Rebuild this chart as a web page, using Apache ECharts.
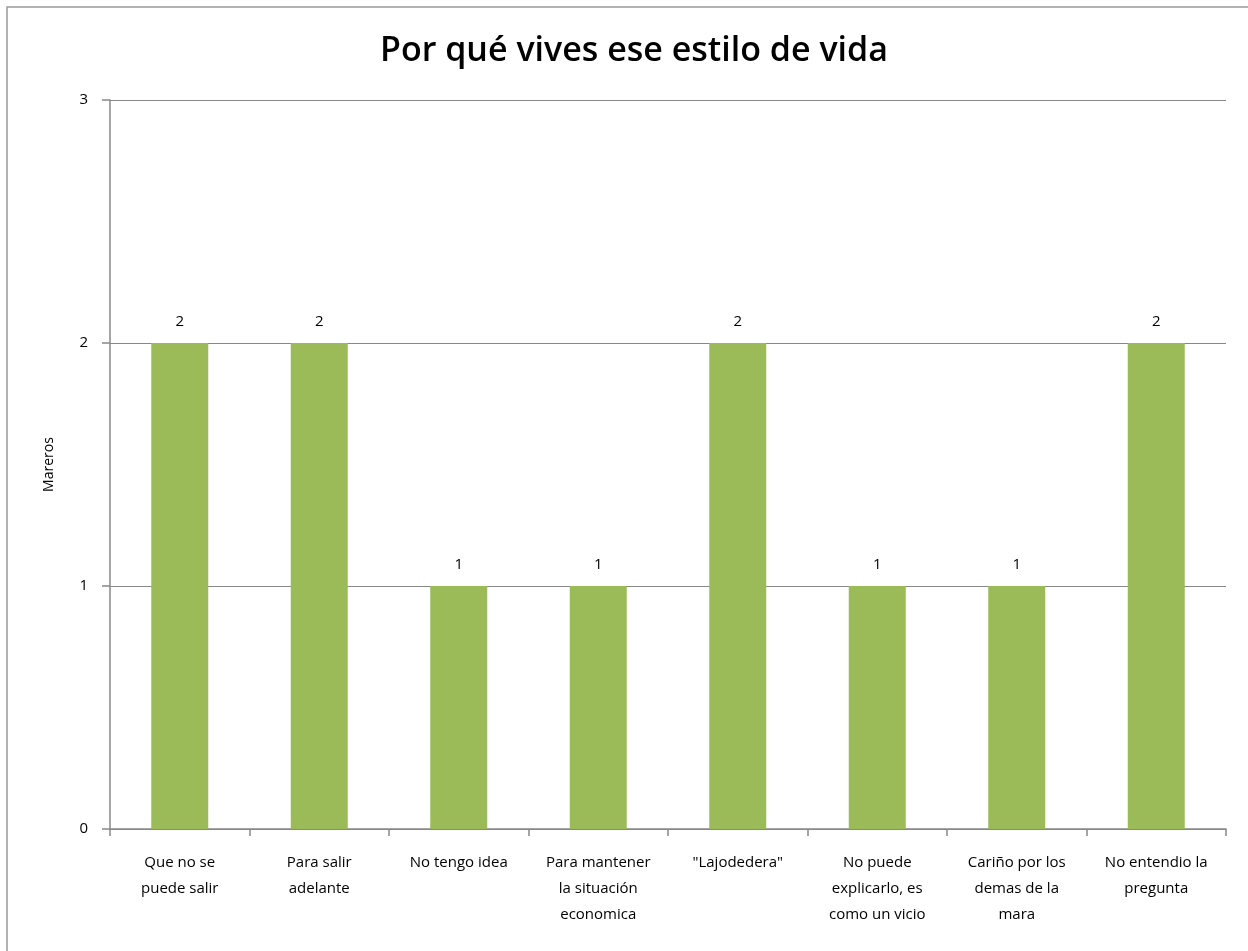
<!DOCTYPE html>
<html>
<head>
<meta charset="utf-8">
<script src="https://cdn.jsdelivr.net/npm/echarts@6/dist/echarts.min.js"></script>
<style>
  html, body { margin: 0; padding: 0; background: #fff; }
  #main { width: 1248px; height: 951px; }
</style>
</head>
<body>
<div id="main"></div>
<script>
// categorias (con saltos de linea como en el original)
var categories = [
  'Que no se\npuede salir',
  'Para salir\nadelante',
  'No tengo idea',
  'Para mantener\nla situación\neconomica',
  '"Lajodedera"',
  'No puede\nexplicarlo, es\ncomo un vicio',
  'Cariño por los\ndemas de la\nmara',
  'No entendio la\npregunta'
];
var mareros = [2, 2, 1, 1, 2, 1, 1, 2];
var yTicks = [0, 1, 2, 3];

var myChart = echarts.init(document.getElementById('main'));
var font = 'Open Sans, Noto Sans, sans-serif';

var option = {
  backgroundColor: '#fff',
  animation: false,
  title: {
    text: 'Por qué vives ese estilo de vida',
    left: 629,
    textAlign: 'center',
    top: 29,
    textStyle: { fontFamily: font, fontSize: 34, fontWeight: 600, color: '#000' }
  },
  graphic: [{
    type: 'rect',
    shape: { x: 7, y: 7, width: 1260, height: 960 },
    style: { fill: 'none', stroke: '#999', lineWidth: 1.5 },
    silent: true
  }],
  grid: { left: 110, right: 22, top: 100, bottom: 122 },
  xAxis: {
    type: 'category',
    data: categories,
    axisLine: { lineStyle: { color: '#888', width: 1.5 } },
    axisTick: { show: true, length: 7, alignWithLabel: false, lineStyle: { color: '#888', width: 1.5 } },
    axisLabel: {
      interval: 0,
      margin: 21,
      color: '#000',
      fontFamily: font,
      fontSize: 15,
      lineHeight: 26
    }
  },
  yAxis: {
    type: 'value',
    min: 0,
    max: yTicks[yTicks.length - 1],
    interval: 1,
    name: 'Mareros',
    nameLocation: 'middle',
    nameGap: 54,
    nameRotate: 90,
    nameTextStyle: { fontFamily: font, fontSize: 14, color: '#000' },
    axisLine: { show: true, lineStyle: { color: '#888', width: 1.5 } },
    axisTick: { show: true, length: 8, lineStyle: { color: '#888', width: 1.5 } },
    splitLine: { lineStyle: { color: '#888', width: 1 } },
    axisLabel: { margin: 22, color: '#000', fontFamily: font, fontSize: 15 }
  },
  series: [{
    type: 'bar',
    data: mareros,
    barWidth: 57,
    itemStyle: { color: '#9BBB59' },
    label: {
      show: true,
      position: 'top',
      distance: 14,
      color: '#000',
      fontFamily: font,
      fontSize: 15
    }
  }]
};

myChart.setOption(option);
</script>
</body>
</html>
